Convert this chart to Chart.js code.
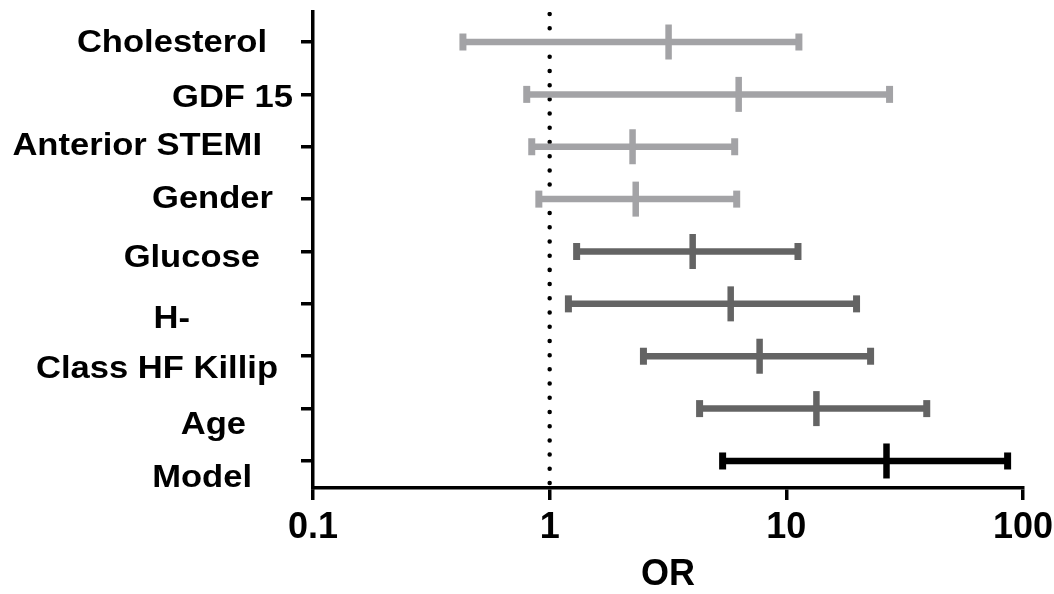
<!DOCTYPE html>
<html>
<head>
<meta charset="utf-8">
<script src="https://cdn.jsdelivr.net/npm/chart.js@4.4.1/dist/chart.umd.min.js"></script>
<style>
  html, body { margin: 0; padding: 0; background: #fff; }
  #wrap { width: 1054px; height: 594px; }
</style>
</head>
<body>
<div id="wrap"><canvas id="orChart"></canvas></div>
<script>
// odds ratios with 95% CI, top row first
const categories = ['Cholesterol', 'GDF 15', 'Anterior STEMI', 'Gender', 'Glucose', 'H-', 'Class HF Killip', 'Age', 'Model'];
const orValues = [3.18, 6.29, 2.24, 2.31, 4.02, 5.82, 7.71, 13.4, 26.5];
const ciLower  = [0.43, 0.80, 0.84, 0.90, 1.30, 1.20, 2.49, 4.30, 5.38];
const ciUpper  = [11.3, 27.3, 6.05, 6.17, 11.2, 19.8, 22.7, 39.2, 86.1];
const xTicks = [0.1, 1, 10, 100];
const refLine = 1;

// styling only
const rowColors = ['#a3a3a6', '#a3a3a6', '#a3a3a6', '#a3a3a6', '#646464', '#646464', '#646464', '#646464', '#000000'];
const labelRight = [267, 293, 262, 273, 260, 190, 278, 246, 252];
const labelDy = [10, 13, 8, 9, 16, 24, 22, 25, 26];

const yMin = -0.573, yMax = 8.516;

const ciSets = categories.map((c, i) => ({
  type: 'line',
  label: c,
  data: [{ x: ciLower[i], y: i }, { x: ciUpper[i], y: i }],
  borderColor: rowColors[i],
  borderWidth: 6.5,
  borderCapStyle: 'butt',
  pointStyle: 'line',
  pointRotation: 90,
  pointRadius: 8.5,
  pointBorderWidth: 7,
  pointBorderColor: rowColors[i],
  pointBackgroundColor: rowColors[i],
  order: 2
}));

const centerSet = {
  type: 'scatter',
  label: 'OR',
  data: orValues.map((v, i) => ({ x: v, y: i })),
  pointStyle: 'line',
  pointRotation: 90,
  pointRadius: 17.5,
  pointBorderWidth: 6.5,
  pointBorderColor: rowColors,
  pointBackgroundColor: rowColors,
  order: 1
};

const refSet = {
  type: 'line',
  label: 'ref',
  data: [{ x: refLine, y: yMin + 0.04 }, { x: refLine, y: yMax }],
  borderColor: '#000',
  borderWidth: 4.5,
  borderDash: [0.01, 14.2],
  borderCapStyle: 'round',
  pointRadius: 0,
  order: 5
};

const yLabels = {
  id: 'yLabels',
  afterDraw(chart) {
    const ctx = chart.ctx;
    const ys = chart.scales.y;
    ctx.save();
    ctx.font = 'bold 32px "Liberation Sans", Arial, sans-serif';
    ctx.fillStyle = '#000';
    ctx.textAlign = 'right';
    ctx.textBaseline = 'alphabetic';
    categories.forEach((c, i) => {
      ctx.save();
      ctx.translate(labelRight[i], ys.getPixelForValue(i) + labelDy[i]);
      ctx.scale(1.08, 1);
      ctx.fillText(c, 0, 0);
      ctx.restore();
    });
    ctx.restore();
  }
};

function noPad(s) {
  s.paddingLeft = 0;
  s.paddingRight = 0;
  s.paddingTop = 0;
  s.paddingBottom = 0;
}

new Chart(document.getElementById('orChart'), {
  type: 'scatter',
  data: { datasets: [centerSet, ...ciSets, refSet] },
  options: {
    responsive: true,
    maintainAspectRatio: false,
    animation: false,
    layout: { autoPadding: false, padding: { top: 12, right: 31, left: 0, bottom: 0 } },
    plugins: { legend: { display: false }, tooltip: { enabled: false } },
    scales: {
      x: {
        type: 'logarithmic',
        min: 0.1,
        max: 100,
        afterBuildTicks: s => { s.ticks = xTicks.map(v => ({ value: v })); },
        afterFit: s => { s.height = 106; noPad(s); },
        grid: { drawOnChartArea: false, drawTicks: true, tickLength: 12, lineWidth: 3.5, color: '#000' },
        border: { display: true, width: 3.5, color: '#000' },
        ticks: {
          color: '#000',
          padding: 6,
          maxRotation: 0,
          font: { family: "'Liberation Sans Narrow', 'Liberation Sans', Arial, sans-serif", size: 36, weight: 'bold' },
          callback: v => String(v)
        },
        title: {
          display: true,
          text: 'OR',
          color: '#000',
          padding: { top: 0, bottom: 1 },
          font: { family: "'Liberation Sans', Arial, sans-serif", size: 36, weight: 'bold', lineHeight: 1 }
        }
      },
      y: {
        type: 'linear',
        reverse: true,
        min: yMin,
        max: yMax,
        afterBuildTicks: s => { s.ticks = categories.map((c, i) => ({ value: i })); },
        afterFit: s => { s.width = 313; noPad(s); },
        grid: { drawOnChartArea: false, drawTicks: true, tickLength: 12, lineWidth: 3.5, color: '#000' },
        border: { display: true, width: 3.5, color: '#000' },
        ticks: { display: false }
      }
    }
  },
  plugins: [yLabels]
});
</script>
</body>
</html>
